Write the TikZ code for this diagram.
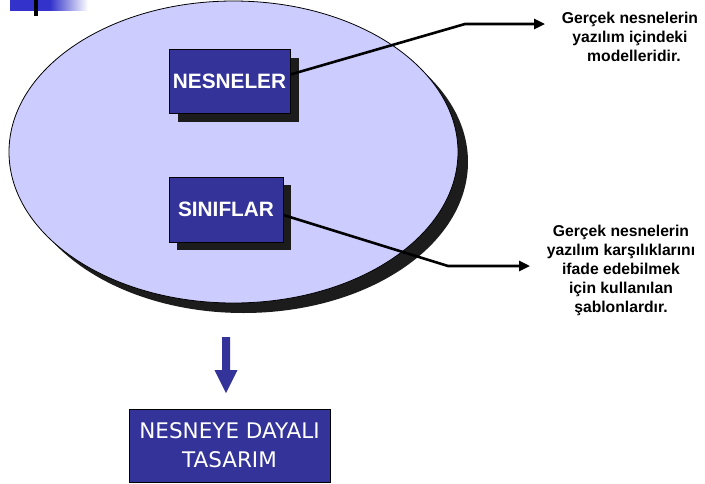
\documentclass[tikz,border=0pt]{standalone}
\usepackage{fontspec}
\setmainfont{Liberation Sans}
\newfontfamily\dejavu{DejaVu Sans}
\usetikzlibrary{shapes.geometric,arrows.meta,calc,shadows,fadings}
\definecolor{ellfill}{RGB}{204,204,255}
\definecolor{boxblue}{RGB}{51,51,153}
\definecolor{barblue}{RGB}{51,51,204}
\definecolor{shadowc}{RGB}{28,28,28}
\tikzset{
  darkshadow/.style={drop shadow={shadow xshift=#1pt,shadow yshift=-#1pt,fill=shadowc,opacity=1}},
  bluebox/.style={draw=black,line width=0.8pt,fill=boxblue,text=white,font=\fontsize{20.8}{24}\selectfont\bfseries,inner sep=0pt},
  link/.style={line width=2.6pt,-{Triangle[length=11pt,width=10pt]}},
  note/.style={align=center,font=\fontsize{15.7}{19}\selectfont\bfseries,text=black,inner sep=0pt}
}
\begin{document}
\begin{tikzpicture}[x=1pt,y=-1pt]
\useasboundingbox (0,0) rectangle (705,483);
% top-left decoration
\fill[barblue] (10,0) rectangle (50,10.5);
\fill[barblue,path fading=east] (50,0) rectangle (88,10.5);
\fill[black] (34,0) rectangle (38,16);
% ellipse
\node[ellipse,draw=black,line width=0.8pt,fill=ellfill,minimum width=449pt,minimum height=302pt,inner sep=0pt,darkshadow=10] (ell) at (233.5,152) {};
% texts
\node[note] (t1) at (630,37) {Gerçek nesnelerin\\yazılım içindeki\\\hspace*{0.5em}modelleridir.};
\node[note] (t2) at (621,270) {Gerçek nesnelerin\\yazılım karşılıklarını\\ifade edebilmek\\için kullanılan\\şablonlardır.};
\coordinate (k1) at (465,24);
\coordinate (k2) at (448,266);
\coordinate (a1) at (545,24);
\coordinate (a2) at (530,266);
% boxes
\node[bluebox,minimum width=121pt,minimum height=64pt,darkshadow=9] (nes) at (229.5,81) {NESNELER};
\node[bluebox,minimum width=114pt,minimum height=65pt,darkshadow=8] (sin) at (226,209.5) {SINIFLAR};
% connectors
\draw[link] ($(nes.east)+(0,-6.5)$) -- (k1) -- (a1);
\draw[link] ($(sin.east)+(0,5.5)$) -- (k2) -- (a2);
% down arrow
\fill[boxblue] (222,337) -- (230,337) -- (230,370) -- (237.5,370) -- (226,393) -- (214.5,370) -- (222,370) -- cycle;
% bottom box
\node[bluebox,font=\dejavu\fontsize{21.5}{29}\selectfont,align=center,minimum width=201pt,minimum height=73pt] (oo) at (229.5,445.5) {NESNEYE DAYALI\\TASARIM};
\end{tikzpicture}
\end{document}
